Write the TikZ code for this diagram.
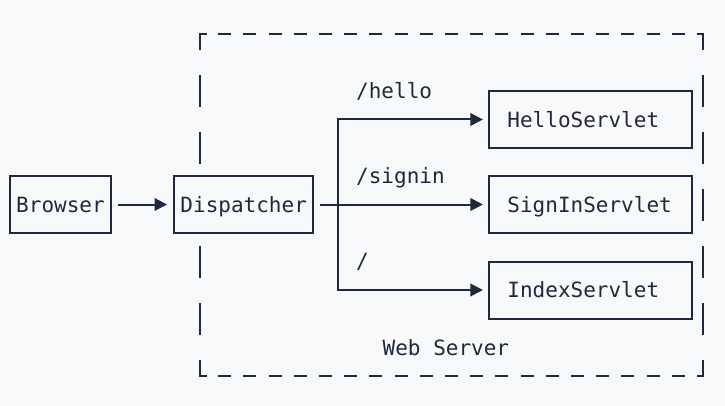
\documentclass[tikz,border=0pt]{standalone}
\usepackage{fontspec}
\setmonofont{DejaVu Sans Mono}
\usetikzlibrary{arrows.meta}
\definecolor{paper}{HTML}{F8F9FA}
\definecolor{ink}{HTML}{1E293B}
\begin{document}
\begin{tikzpicture}[x=1pt,y=-1pt,
  every node/.style={font=\ttfamily\fontsize{21}{25}\selectfont, text=ink},
  box/.style={draw=ink, line width=2pt, fill=paper, minimum height=57pt,
    inner sep=0pt, text height=15.3pt, text depth=0pt},
  servlet/.style={box, text width=165.7pt, inner xsep=18.5pt, align=left},
  link/.style={draw=ink, line width=2pt},
  flow/.style={link, -{Triangle[length=12.5pt,width=12.5pt]}},
  frame/.style={draw=ink, line width=2pt, line join=miter},
  label/.style={anchor=base west, inner sep=0pt}
]
% canvas
\fill[paper] (0,0) rectangle (725,406);
\useasboundingbox (0,0) rectangle (725,406);

% dashed server boundary
\foreach \k in {0,...,18} {
  \draw[frame] ({218.3+25.19*\k},34) -- ++(13,0);
  \draw[frame] ({218.3+25.19*\k},375.5) -- ++(13,0);
}
\foreach \k in {0,...,4} {
  \draw[frame] (200,{75+57*\k}) -- ++(0,32);
  \draw[frame] (703,{75+57*\k}) -- ++(0,32);
}
\draw[frame] (207,34) -- (200,34) -- (200,50);
\draw[frame] (696.5,34) -- (703,34) -- (703,50);
\draw[frame] (200,359.5) -- (200,375.5) -- (207,375.5);
\draw[frame] (703,359.5) -- (703,375.5) -- (696.5,375.5);

% components
\node[box, minimum width=101pt] (browser) at (60.5,204.5) {Browser};
\node[box, minimum width=139.3pt] (disp) at (243.7,204.5) {Dispatcher};
\node[servlet] (hello) at (590.3,119.5) {HelloServlet};
\node[servlet] (signin) at (590.3,204.5) {SignInServlet};
\node[servlet] (index) at (590.3,290) {IndexServlet};

% routing
\coordinate (fork) at (337.7,204.5);
\draw[flow, shorten <=6pt, shorten >=6pt] (browser.east) -- (disp.west);
\draw[flow, shorten <=6pt, shorten >=5pt] (disp.east) -- (signin.west);
\draw[flow, shorten >=5pt] (fork) |- (hello.west);
\draw[flow, shorten >=5pt] (fork) |- (index.west);

% route labels
\node[label] (lhello) at (356,98.3) {/hello};
\node[label] (lsignin) at (356,183.3) {/signin};
\node[label] (lroot) at (356,268.3) {/};
\node[label] (lserver) at (382.5,355) {Web Server};
\end{tikzpicture}
\end{document}
